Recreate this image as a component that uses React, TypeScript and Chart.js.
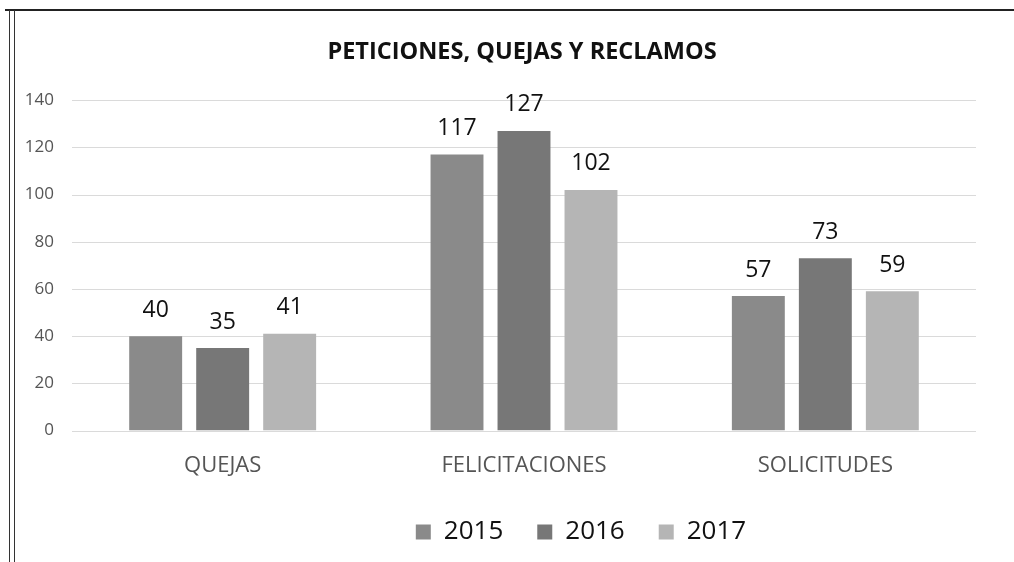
import React, { useEffect, useRef } from "react";
import { Chart, registerables } from "chart.js";

Chart.register(...registerables);

const categories = ["QUEJAS", "FELICITACIONES", "SOLICITUDES"];
const years = ["2015", "2016", "2017"];
const values2015 = [40, 117, 57];
const values2016 = [35, 127, 73];
const values2017 = [41, 102, 59];
const yTicks = [0, 20, 40, 60, 80, 100, 120, 140];
const title = "PETICIONES, QUEJAS Y RECLAMOS";

const colors = ["#8a8a8a", "#777777", "#b5b5b5"];
const FONT = "'Open Sans', 'DejaVu Sans', sans-serif";

const valueLabels = {
  id: "valueLabels",
  afterDatasetsDraw(chart: any) {
    const { ctx } = chart;
    ctx.save();
    ctx.font = `23px ${FONT}`;
    ctx.fillStyle = "#111";
    ctx.textAlign = "center";
    ctx.textBaseline = "middle";
    chart.data.datasets.forEach((ds: any, i: number) => {
      const meta = chart.getDatasetMeta(i);
      meta.data.forEach((bar: any, j: number) => {
        ctx.fillText(String(ds.data[j]), bar.x, bar.y - 26);
      });
    });
    ctx.restore();
  },
};

const gridLines = {
  id: "gridLines",
  beforeDatasetsDraw(chart: any) {
    const { ctx, chartArea, scales } = chart;
    ctx.save();
    ctx.strokeStyle = "#dadada";
    ctx.lineWidth = 1;
    yTicks.forEach((v) => {
      const y = Math.round(scales.y.getPixelForValue(v)) + 0.5;
      ctx.beginPath();
      ctx.moveTo(chartArea.left, y);
      ctx.lineTo(chartArea.right, y);
      ctx.stroke();
    });
    ctx.restore();
  },
};

const shiftBoxes = {
  id: "shiftBoxes",
  afterLayout(chart: any) {
    const t = chart.titleBlock;
    if (t) {
      t.left += 34;
      t.right += 34;
    }
    const l = chart.legend;
    if (l) {
      l.left += 93;
      l.right += 93;
      l.top -= 16;
      l.bottom -= 16;
    }
  },
};

export default function App() {
  const ref = useRef<HTMLCanvasElement>(null);
  useEffect(() => {
    if (!ref.current) return;
    const chart = new Chart(ref.current, {
      type: "bar",
      data: {
        labels: categories,
        datasets: [values2015, values2016, values2017].map((d, i) => ({
          label: years[i],
          data: d,
          backgroundColor: colors[i],
          categoryPercentage: 0.667,
          barPercentage: 0.79,
        })),
      },
      options: {
        animation: false,
        responsive: false,
        maintainAspectRatio: false,
        layout: { padding: { left: 0, right: 38, top: 0, bottom: -9 } },
        plugins: {
          title: {
            display: true,
            text: title,
            font: { family: FONT, size: 23.5, weight: "bold" },
            color: "#111",
            padding: { top: 38, bottom: 34 },
          },
          legend: {
            position: "bottom",
            labels: {
              font: { family: FONT, size: 26 },
              color: "#111",
              boxWidth: 15,
              boxHeight: 15,
              padding: 34,
            },
          },
          tooltip: { enabled: false },
        },
        scales: {
          x: {
            grid: { display: false, drawTicks: false },
            border: { display: false },
            ticks: { font: { family: FONT, size: 22 }, color: "#555", padding: 22 },
          },
          y: {
            min: 0,
            max: 140,
            afterBuildTicks: (axis: any) => {
              axis.ticks = yTicks.map((v) => ({ value: v }));
            },
            afterFit: (axis: any) => {
              axis.width = 72;
            },
            grid: { display: false, drawTicks: false },
            border: { display: false },
            ticks: { font: { family: FONT, size: 17 }, color: "#555", padding: 18 },
          },
        },
      },
      plugins: [gridLines, valueLabels, shiftBoxes],
    });
    return () => chart.destroy();
  }, []);
  return (
    <div style={{ position: "fixed", left: 0, top: 0, width: 1014, height: 562, background: "#fff" }}>
      <canvas ref={ref} width={1014} height={562} style={{ position: "absolute", left: 0, top: 0 }} />
      <div style={{ position: "absolute", left: 5, top: 9, width: 1009, height: 2, background: "#222" }} />
      <div style={{ position: "absolute", left: 9, top: 10, width: 1, height: 552, background: "#333" }} />
      <div style={{ position: "absolute", left: 14, top: 10, width: 1, height: 552, background: "#333" }} />
    </div>
  );
}
